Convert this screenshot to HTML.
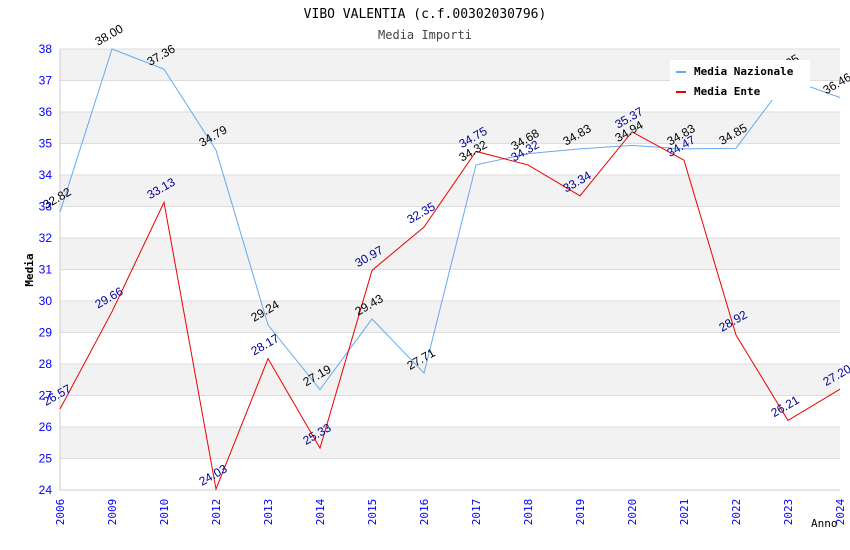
<!DOCTYPE html>
<html><head><meta charset="utf-8"><style>
body{margin:0;background:#fff;}
svg{display:block;font-family:"DejaVu Sans Mono","Liberation Mono",monospace;}
</style></head><body>
<svg id="chart" width="850" height="550">
<text x="425" y="18" text-anchor="middle" font-size="13" fill="#000">VIBO VALENTIA (c.f.00302030796)</text>
<text x="425" y="39" text-anchor="middle" font-size="12" fill="#444">Media Importi</text>
<g id="bands"></g><g id="grid"></g><g id="axes"></g><g id="series"></g><g id="labels"></g>
<text x="33" y="270" transform="rotate(-90 33 270)" text-anchor="middle" font-size="11" font-weight="bold">Media</text>
<text x="811" y="527" font-size="11" fill="#000">Anno</text>
<g>
<rect x="670" y="60" width="140" height="40" fill="#fff"/>
<g><line x1="676" y1="72" x2="686" y2="72" stroke="#66aaee" stroke-width="2"/><text x="694" y="75" font-size="11" font-weight="bold">Media Nazionale</text></g>
<g><line x1="676" y1="92" x2="686" y2="92" stroke="#ee0000" stroke-width="2"/><text x="694" y="95" font-size="11" font-weight="bold">Media Ente</text></g>
</g>
</svg>
<script>
const categories=["2006","2009","2010","2012","2013","2014","2015","2016","2017","2018","2019","2020","2021","2022","2023","2024"];
const nazionale=[32.82,38.00,37.36,34.79,29.24,27.19,29.43,27.71,34.32,34.68,34.83,34.94,34.83,34.85,37.05,36.46];
const ente=[26.57,29.66,33.13,24.03,28.17,25.33,30.97,32.35,34.75,34.32,33.34,35.37,34.47,28.92,26.21,27.20];
const yTicks=[24,25,26,27,28,29,30,31,32,33,34,35,36,37,38];
const NS="http://www.w3.org/2000/svg";
const L=60,R=840,T=49,B=490,yMin=24,yMax=38;
const xs=i=>L+i*(R-L)/(categories.length-1);
const ys=v=>B-(v-yMin)*(B-T)/(yMax-yMin);
function mk(tag,attrs,parent){const e=document.createElementNS(NS,tag);for(const k in attrs)e.setAttribute(k,attrs[k]);document.getElementById(parent).appendChild(e);return e;}
for(let i=0;i<yTicks.length-1;i++){
 const r=mk('rect',{x:L,y:ys(yTicks[i+1]),width:R-L,height:ys(yTicks[i])-ys(yTicks[i+1]),fill:i%2===0?'#ffffff':'#f2f2f2'},'bands');
 
 
}
yTicks.forEach(t=>{
 const l=mk('line',{x1:L,x2:R,y1:ys(t),y2:ys(t),stroke:'#dddddd'},'grid');
 
 
 const tx=mk('text',{x:L-8,y:ys(t)+4,'text-anchor':'end','font-size':12,fill:'#0000ff','font-family':'Liberation Sans, sans-serif'},'axes');
 tx.textContent=t;
 
 
});
categories.forEach((c,i)=>{
 const x=xs(i),y=B+22;
 const tx=mk('text',{x:x+4,y:y,'text-anchor':'middle','font-size':11,fill:'#0000ff',transform:`rotate(-90 ${x+4} ${y})`},'axes');
 tx.textContent=c;
 
 
});
const ax=mk('line',{x1:L,x2:R,y1:B,y2:B,stroke:'#cccccc'},'axes');


const ay=mk('line',{x1:L,x2:L,y1:T,y2:B,stroke:'#cccccc'},'axes');


function series(data,color,lblColor,name){
 const p=mk('polyline',{points:data.map((v,i)=>xs(i)+','+ys(v)).join(' '),fill:'none',stroke:color,'stroke-width':1},'series');
 
 
 data.forEach((v,i)=>{
  const x=xs(i)-14,y=ys(v)-3;
  const t=mk('text',{x:x,y:y,'font-size':12,fill:lblColor,'font-family':'Liberation Sans, sans-serif',transform:`rotate(-30 ${x} ${y})`},'labels');
  t.textContent=v.toFixed(2);
  
  
 });
}
series(nazionale,'#66aaee','#000','nazionale');
series(ente,'#ee0000','#000099','ente');
</script>
</body></html>
